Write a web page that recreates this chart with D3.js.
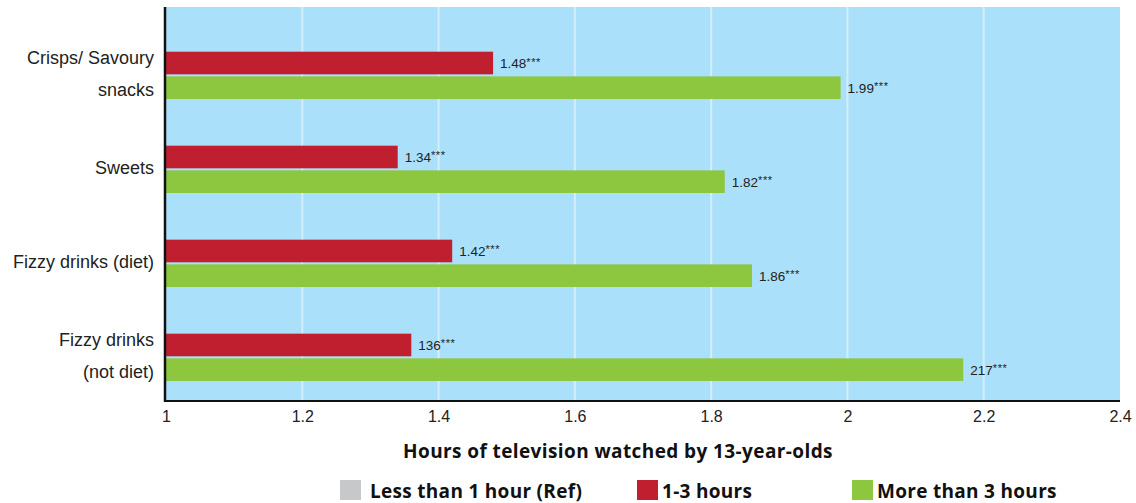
<!DOCTYPE html>
<html>
<head>
<meta charset="utf-8">
<script src="https://cdn.jsdelivr.net/npm/d3@7"></script>
<style>
  html, body { margin: 0; padding: 0; background: #fff; }
  svg { display: block; }
</style>
</head>
<body>
<div id="chart"></div>
<script>
// Food categories (two-line labels where the name wraps)
const categories = ["Crisps/ Savoury snacks", "Sweets", "Fizzy drinks (diet)", "Fizzy drinks (not diet)"];
const categoryLines = [["Crisps/ Savoury", "snacks"], ["Sweets"], ["Fizzy drinks (diet)"], ["Fizzy drinks", "(not diet)"]];

// Series: reference group (odds ratio 1) plus the two viewing groups
const seriesNames = ["Less than 1 hour (Ref)", "1-3 hours", "More than 3 hours"];
const refValues   = [1, 1, 1, 1];
const midValues   = [1.48, 1.34, 1.42, 1.36];
const highValues  = [1.99, 1.82, 1.86, 2.17];
const midLabels   = ["1.48", "1.34", "1.42", "136"];
const highLabels  = ["1.99", "1.82", "1.86", "217"];
const seriesColors = ["#c7c8ca", "#c01f2f", "#8dc63f"];

const xTicks = [1, 1.2, 1.4, 1.6, 1.8, 2, 2.2, 2.4];
const xTitle = "Hours of television watched by 13-year-olds";

const W = 1136, H = 503;
const plot = { left: 166, right: 1120, top: 7, bottom: 401 };
const sans = "Liberation Sans, Arial, sans-serif";
const boldSans = "Open Sans, Noto Sans, sans-serif";

const svg = d3.select("#chart").append("svg")
  .attr("width", W).attr("height", H);

const x = d3.scaleLinear().domain([1, 2.4]).range([plot.left, plot.right]);
const y = d3.scaleBand().domain(categories)
  .range([plot.top, plot.bottom]).paddingInner(0.234).paddingOuter(0.213);
const ySub = d3.scaleBand().domain(seriesNames)
  .range([0, y.bandwidth()]).paddingInner(0.083).paddingOuter(0);

// Plot background
svg.append("rect")
  .attr("x", plot.left).attr("y", plot.top)
  .attr("width", plot.right - plot.left).attr("height", plot.bottom - plot.top)
  .attr("fill", "#abe0fa");

// Vertical gridlines
svg.append("g").selectAll("line")
  .data(xTicks.slice(1, -1))
  .join("line")
  .attr("x1", d => x(d)).attr("x2", d => x(d))
  .attr("y1", plot.top).attr("y2", plot.bottom)
  .attr("stroke", "#d3eefb").attr("stroke-width", 2);

// Bars
const table = categories.map((c, i) => ({
  category: c,
  values: [
    { series: seriesNames[0], value: refValues[i], label: null },
    { series: seriesNames[1], value: midValues[i], label: midLabels[i] },
    { series: seriesNames[2], value: highValues[i], label: highLabels[i] }
  ]
}));
const color = d3.scaleOrdinal().domain(seriesNames).range(seriesColors);

const groups = svg.append("g").selectAll("g")
  .data(table).join("g")
  .attr("transform", d => `translate(0,${y(d.category)})`);

groups.selectAll("rect")
  .data(d => d.values).join("rect")
  .attr("x", x(1))
  .attr("y", d => ySub(d.series))
  .attr("width", d => x(d.value) - x(1))
  .attr("height", ySub.bandwidth())
  .attr("fill", d => color(d.series));

// Value labels with significance stars
const lab = groups.selectAll("text.val")
  .data(d => d.values.filter(v => v.label)).join("text")
  .attr("class", "val")
  .attr("x", d => x(d.value) + 7)
  .attr("y", d => ySub(d.series) + ySub.bandwidth() / 2 + 5)
  .attr("font-family", sans)
  .attr("font-size", 13.5)
  .attr("fill", "#222");
lab.append("tspan").text(d => d.label);
lab.append("tspan").attr("font-size", 11).attr("letter-spacing", 0.6).attr("dy", -2.5).text("***");

// Category labels
const labelX = 154;
const cat = svg.append("g").selectAll("text")
  .data(table).join("text")
  .attr("text-anchor", "end")
  .attr("font-family", sans)
  .attr("font-size", 18)
  .attr("fill", "#222");
cat.each(function(d, i) {
  const lines = categoryLines[i];
  const mid = y(d.category) + ySub(seriesNames[1]) + ySub.step();
  const t = d3.select(this);
  if (lines.length === 1) {
    t.append("tspan").attr("x", labelX).attr("y", mid + 3.5).text(lines[0]);
  } else {
    t.append("tspan").attr("x", labelX).attr("y", mid - 12.5).text(lines[0]);
    t.append("tspan").attr("x", labelX).attr("y", mid + 19.5).text(lines[1]);
  }
});

// X axis tick labels
const xAxis = d3.axisBottom(x).tickValues(xTicks).tickSize(0).tickPadding(10)
  .tickFormat(d3.format("~g"));
const gx = svg.append("g").attr("transform", `translate(0,${plot.bottom})`).call(xAxis);
gx.select(".domain").remove();
gx.selectAll("text")
  .attr("font-family", sans)
  .attr("font-size", 16).attr("fill", "#222");

// Axis lines
svg.append("line")
  .attr("x1", plot.left - 1).attr("x2", plot.left - 1)
  .attr("y1", plot.top).attr("y2", plot.bottom + 1)
  .attr("stroke", "#111").attr("stroke-width", 2.5);
svg.append("line")
  .attr("x1", plot.left - 2).attr("x2", plot.right)
  .attr("y1", plot.bottom).attr("y2", plot.bottom)
  .attr("stroke", "#111").attr("stroke-width", 2);

// Axis title
svg.append("text")
  .attr("x", 618).attr("y", 458)
  .attr("text-anchor", "middle")
  .attr("font-family", boldSans)
  .attr("font-weight", 700)
  .attr("font-size", 19)
  .attr("letter-spacing", 0.4)
  .attr("fill", "#111")
  .text(xTitle);

// Legend
const legendX = [340, 637, 852];
const legendTextDx = [30, 25, 25];
const leg = svg.append("g").selectAll("g")
  .data(seriesNames).join("g")
  .attr("transform", (d, i) => `translate(${legendX[i]},480)`);
leg.append("rect").attr("width", 21).attr("height", 20).attr("fill", d => color(d));
leg.append("text")
  .attr("x", (d, i) => legendTextDx[i]).attr("y", 18)
  .attr("font-family", boldSans)
  .attr("font-weight", 700)
  .attr("font-size", 19)
  .attr("letter-spacing", 0.3)
  .attr("fill", "#111")
  .text(d => d);
</script>
</body>
</html>
